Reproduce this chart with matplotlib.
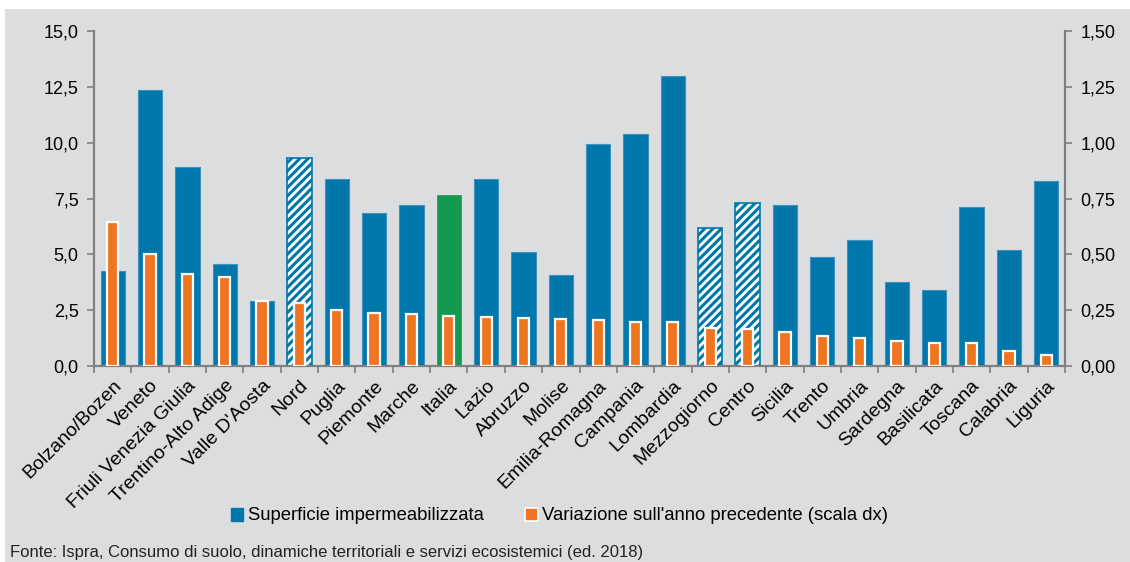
import matplotlib
matplotlib.use("Agg")
import matplotlib.pyplot as plt
from matplotlib.patches import Patch, Rectangle
from matplotlib.ticker import FuncFormatter, MultipleLocator
import numpy as np

categories = ["Bolzano/Bozen", "Veneto", "Friuli Venezia Giulia", "Trentino-Alto Adige",
              "Valle D'Aosta", "Nord", "Puglia", "Piemonte", "Marche", "Italia", "Lazio",
              "Abruzzo", "Molise", "Emilia-Romagna", "Campania", "Lombardia", "Mezzogiorno",
              "Centro", "Sicilia", "Trento", "Umbria", "Sardegna", "Basilicata", "Toscana",
              "Calabria", "Liguria"]
superficie = [4.27, 12.36, 8.92, 4.58, 2.90, 9.33, 8.37, 6.87, 7.19, 7.66, 8.39,
              5.12, 4.06, 9.93, 10.37, 13.00, 6.19, 7.31, 7.19, 4.87, 5.64, 3.75,
              3.39, 7.10, 5.18, 8.30]
variazione = [0.645, 0.501, 0.412, 0.397, 0.292, 0.284, 0.252, 0.237, 0.231, 0.224, 0.218,
              0.216, 0.212, 0.206, 0.198, 0.196, 0.172, 0.164, 0.154, 0.136, 0.127, 0.110,
              0.103, 0.103, 0.069, 0.049]
aggregates = ["Nord", "Mezzogiorno", "Centro"]
national = "Italia"

BLUE = "#0077AB"
ORANGE = "#F07522"
GREEN = "#139A4F"
BG = "#DCDDDF"
AXIS = "#7F7F7F"

plt.rcParams["font.family"] = ["Liberation Sans", "DejaVu Sans"]
plt.rcParams["hatch.linewidth"] = 2.2
plt.rcParams["hatch.color"] = BLUE

fig = plt.figure(figsize=(11.30, 5.62), dpi=100, facecolor="white")
fig.patches.append(Rectangle((5 / 1130, 0), 1, 1 - 9 / 562, transform=fig.transFigure,
                             facecolor=BG, edgecolor="none", zorder=-10))

ax = fig.add_axes([94 / 1130, 1 - 366 / 562, (1065 - 94) / 1130, (366 - 31) / 562])
ax.set_facecolor("none")
ax2 = ax.twinx()
ax2.set_facecolor("none")

x = np.arange(len(categories))
for xi, name, val in zip(x, categories, superficie):
    if name in aggregates:
        ax.bar(xi, val, width=0.65, facecolor="white", edgecolor=BLUE, hatch="////",
               linewidth=1.2, zorder=2)
    elif name == national:
        ax.bar(xi, val, width=0.65, color=GREEN, edgecolor=GREEN, linewidth=0.5, zorder=2)
    else:
        ax.bar(xi, val, width=0.65, color=BLUE, edgecolor="#3F93BE", linewidth=0.8, zorder=2)

ax2.bar(x, variazione, width=0.3, color=ORANGE, edgecolor="white", linewidth=1.6, zorder=3)

ax.set_xlim(-0.5, len(categories) - 0.5)
ax.set_ylim(0, 15)
ax2.set_ylim(0, 1.5)
ax.yaxis.set_major_locator(MultipleLocator(2.5))
ax2.yaxis.set_major_locator(MultipleLocator(0.25))
ax.yaxis.set_major_formatter(FuncFormatter(lambda v, p: f"{v:.1f}".replace(".", ",")))
ax2.yaxis.set_major_formatter(FuncFormatter(lambda v, p: f"{v:.2f}".replace(".", ",")))

ax.set_xticks(x)
ax.set_xticklabels(categories, rotation=45, ha="right", rotation_mode="anchor", fontsize=14)
ax.set_xticks(np.arange(-0.5, len(categories)), minor=True)
ax.tick_params(axis="x", which="major", length=0, pad=8)
ax.tick_params(axis="x", which="minor", length=5, width=1.2, color=AXIS, direction="out")
ax.tick_params(axis="y", length=5, width=1.2, color=AXIS, labelsize=13, pad=6)
ax2.tick_params(axis="y", length=5, width=1.2, color=AXIS, labelsize=13, pad=6)

for a in (ax, ax2):
    a.spines["top"].set_visible(False)
    for side in ("left", "right", "bottom"):
        a.spines[side].set_color(AXIS)
        a.spines[side].set_linewidth(1.5)

handles = [Patch(facecolor=BLUE, edgecolor=BLUE),
           Patch(facecolor=ORANGE, edgecolor="white", linewidth=1.2)]
fig.legend(handles, ["Superficie impermeabilizzata",
                     "Variazione sull'anno precedente (scala dx)"],
           loc="center", bbox_to_anchor=(0.495, 1 - 516 / 562), ncol=2, frameon=False,
           fontsize=13.3, handlelength=0.7, handleheight=0.7, handletextpad=0.25,
           columnspacing=2.2)

fig.text(10 / 1130, 1 - 552 / 562,
         "Fonte: Ispra, Consumo di suolo, dinamiche territoriali e servizi ecosistemici (ed. 2018)",
         fontsize=12, color="#222222", va="center", ha="left")

fig.savefig("out.png", dpi=100, facecolor=fig.get_facecolor())
